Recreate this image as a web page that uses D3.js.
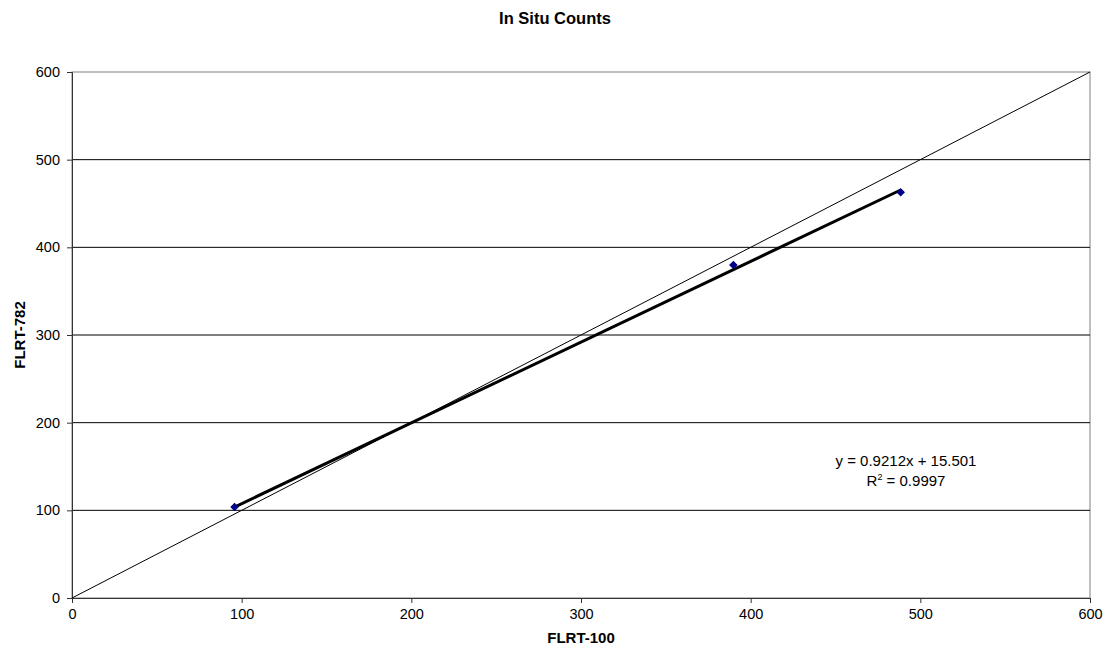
<!DOCTYPE html>
<html>
<head>
<meta charset="utf-8">
<script src="https://cdn.jsdelivr.net/npm/d3@7"></script>
<style>
  body { margin: 0; background: #fff; }
  text { font-family: "Liberation Sans", Arial, sans-serif; }
</style>
</head>
<body>
<svg width="1107" height="658"></svg>
<script>
const xValues = [95.8, 389.8, 488.4];
const yValues = [103.8, 379.8, 462.8];
const tickValues = [0, 100, 200, 300, 400, 500, 600];
const slope = 0.9212, intercept = 15.501;
const equationText = 'y = 0.9212x + 15.501';
const r2Text = '0.9997';

const svg = d3.select('svg');
const margin = { top: 72, right: 17, bottom: 60, left: 72 };
const width = +svg.attr('width');
const height = +svg.attr('height');
const chartWidth = width - margin.left - margin.right;
const chartHeight = height - margin.top - margin.bottom;
const font = '"Liberation Sans", Arial, sans-serif';

const x = d3.scaleLinear().domain([0, 600]).range([0, chartWidth]);
const y = d3.scaleLinear().domain([0, 600]).range([chartHeight, 0]);

const g = svg.append('g').attr('transform', `translate(${margin.left},${margin.top})`);

// plot border
g.append('rect')
  .attr('width', chartWidth).attr('height', chartHeight)
  .attr('fill', 'none').attr('stroke', '#808080').attr('stroke-width', 1);

// gridlines
g.selectAll('.grid')
  .data(tickValues.slice(1, -1))
  .enter().append('line')
  .attr('x1', 0).attr('x2', chartWidth)
  .attr('y1', d => y(d)).attr('y2', d => y(d))
  .attr('stroke', '#000').attr('stroke-width', 1);

// axes
const xAxis = g.append('g')
  .attr('transform', `translate(0,${chartHeight})`)
  .call(d3.axisBottom(x).tickValues(tickValues).tickSize(5).tickPadding(6));
const yAxis = g.append('g')
  .call(d3.axisLeft(y).tickValues(tickValues).tickSize(5).tickPadding(7));
[xAxis, yAxis].forEach(a => {
  a.selectAll('text').attr('font-size', 14.5).attr('fill', '#000').attr('font-family', font);
  a.selectAll('line').attr('stroke', '#333');
  a.select('.domain').attr('stroke', '#333');
});

// y = x reference line
g.append('line')
  .attr('x1', x(0)).attr('y1', y(0)).attr('x2', x(600)).attr('y2', y(600))
  .attr('stroke', '#000').attr('stroke-width', 1);

// trend line
const x0 = d3.min(xValues), x1 = d3.max(xValues);
g.append('line')
  .attr('x1', x(x0)).attr('y1', y(slope * x0 + intercept))
  .attr('x2', x(x1)).attr('y2', y(slope * x1 + intercept))
  .attr('stroke', '#000').attr('stroke-width', 3);

// points
g.selectAll('.pt')
  .data(xValues.map((d, i) => [d, yValues[i]]))
  .enter().append('path')
  .attr('d', d3.symbol(d3.symbolSquare, 26))
  .attr('transform', d => `translate(${x(d[0])},${y(d[1])}) rotate(45)`)
  .attr('fill', '#00008b').attr('stroke', '#000080').attr('stroke-width', 1);

// equation
const eqX = 906 - margin.left;
g.append('text')
  .attr('x', eqX).attr('y', 466 - margin.top)
  .attr('text-anchor', 'middle').attr('font-size', 15)
  .text(equationText);
const r2 = g.append('text')
  .attr('x', eqX).attr('y', 486 - margin.top)
  .attr('text-anchor', 'middle').attr('font-size', 15);
r2.append('tspan').text('R');
r2.append('tspan').attr('font-size', 9).attr('dy', -6).text('2');
r2.append('tspan').attr('dy', 6).text(' = ' + r2Text);

// title
svg.append('text')
  .attr('x', 555).attr('y', 24)
  .attr('text-anchor', 'middle').attr('font-size', 16.5).attr('font-weight', 'bold')
  .text('In Situ Counts');

// axis titles
svg.append('text')
  .attr('x', margin.left + chartWidth / 2).attr('y', 643)
  .attr('text-anchor', 'middle').attr('font-size', 15).attr('font-weight', 'bold')
  .text('FLRT-100');
svg.append('text')
  .attr('transform', `translate(25,${margin.top + chartHeight / 2}) rotate(-90)`)
  .attr('text-anchor', 'middle').attr('font-size', 15).attr('font-weight', 'bold')
  .text('FLRT-782');
</script>
</body>
</html>
